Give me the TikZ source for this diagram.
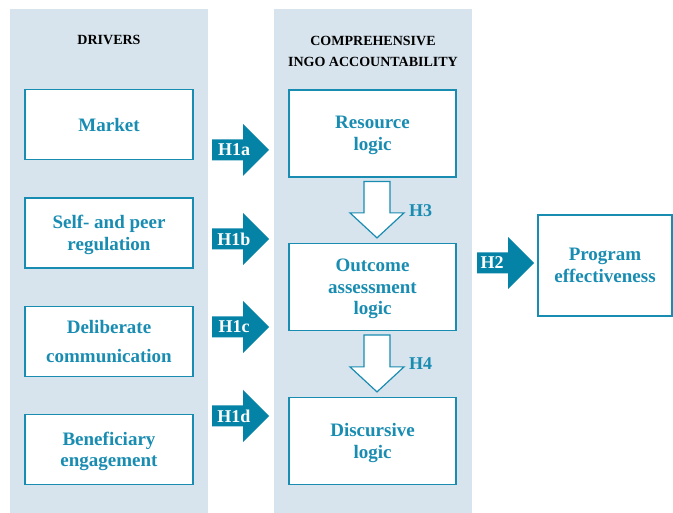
\documentclass[tikz,border=0pt]{standalone}
\usepackage{fontspec}
\setmainfont{Liberation Serif}
\usetikzlibrary{calc}
\definecolor{panelc}{RGB}{215,228,237}
\definecolor{tealc}{RGB}{25,140,178}
\definecolor{arrowc}{RGB}{4,131,166}
\newcommand\blockarrow[5]{% name, x0, yc, label, label x offset
  \fill[arrowc] (#2,#3-10.5) -- (#2+31,#3-10.5) -- (#2+31,#3-26) -- (#2+57,#3)
     -- (#2+31,#3+26) -- (#2+31,#3+10.5) -- (#2,#3+10.5) -- cycle;
  \node[hlabel] (#1) at (#2+#5,#3) {#4};}
\begin{document}
\begin{tikzpicture}[x=1pt,y=-1pt,
  box/.style={draw=tealc,line width=1.2pt,fill=white,text=tealc,text depth=0pt,
    font=\fontsize{19}{21.5}\selectfont\bfseries,align=center,inner sep=0pt},
  lbox/.style={box,minimum width=168pt,minimum height=70pt},
  mbox/.style={box,minimum width=167pt,minimum height=87pt},
  title/.style={font=\fontsize{14}{21}\selectfont\bfseries,align=center,text=black},
  hlabel/.style={text=white,font=\fontsize{18}{20}\selectfont\bfseries,inner sep=0pt},
  hollow/.style={draw=tealc,line width=1.2pt,fill=white,line join=miter},
  hnum/.style={text=tealc,font=\fontsize{18}{20}\selectfont\bfseries,inner sep=0pt}]
\useasboundingbox (0,0) rectangle (673,513);
\fill[white] (0,0) rectangle (673,513);
% panels
\fill[panelc] (10,9) rectangle (207.5,513);
\fill[panelc] (274,9) rectangle (471.5,513);
% titles
\node[title] (t1) at (109,40) {DRIVERS};
\node[title] (t2) at (373,51) {COMPREHENSIVE\\INGO ACCOUNTABILITY};
% driver boxes
\node[lbox] (market) at (109,124.5) {Market};
\node[lbox] (self) at (109,233) {Self- and peer\\regulation};
\node[lbox,font=\fontsize{19}{29}\selectfont\bfseries] (delib) at (109,341.5) {Deliberate\\communication};
\node[lbox] (benef) at (109,449.5) {Beneficiary\\engagement};
% accountability boxes
\node[mbox] (res) at (372.5,133.5) {Resource\\logic};
\node[mbox] (out) at (372.5,287) {Outcome\\assessment\\logic};
\node[mbox] (disc) at (372.5,441) {Discursive\\logic};
% program box
\node[box,minimum width=134pt,minimum height=101pt] (prog) at (605,265.5) {Program\\effectiveness};
% block arrows
\blockarrow{h1a}{212}{150}{H1a}{22}
\blockarrow{h1b}{212}{239}{H1b}{22}
\blockarrow{h1c}{212}{327}{H1c}{22}
\blockarrow{h1d}{212}{416}{H1d}{22}
\blockarrow{h2}{477}{263}{H2}{15}
% hollow arrows
\coordinate (a3) at ($(res.south)+(4.5,4)$);
\coordinate (b3) at ($(out.north)+(4.5,-5)$);
\draw[hollow] ($(a3)+(-13,0)$) -- ($(a3)+(13,0)$) -- ($(b3)+(13,-25)$) -- ($(b3)+(27,-25)$)
  -- (b3) -- ($(b3)+(-27,-25)$) -- ($(b3)+(-13,-25)$) -- cycle;
\node[hnum] (h3) at (420.5,211) {H3};
\coordinate (a4) at ($(out.south)+(4.5,4)$);
\coordinate (b4) at ($(disc.north)+(4.5,-5)$);
\draw[hollow] ($(a4)+(-13,0)$) -- ($(a4)+(13,0)$) -- ($(b4)+(13,-25)$) -- ($(b4)+(27,-25)$)
  -- (b4) -- ($(b4)+(-27,-25)$) -- ($(b4)+(-13,-25)$) -- cycle;
\node[hnum] (h4) at (420.5,364) {H4};
\end{tikzpicture}
\end{document}
